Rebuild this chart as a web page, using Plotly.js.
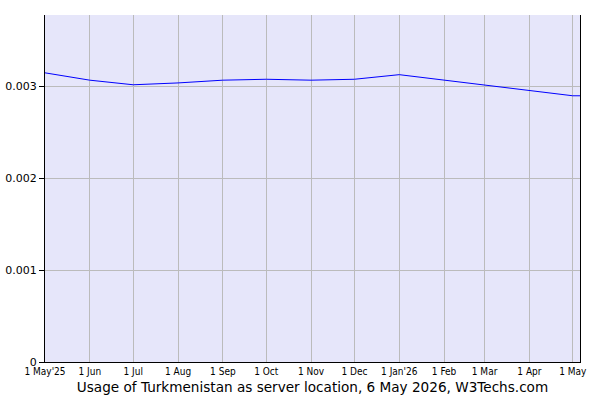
<!DOCTYPE html>
<html>
<head>
<meta charset="utf-8">
<script src="https://cdn.plot.ly/plotly-3.0.1.min.js"></script>
<style>
  html, body { margin: 0; padding: 0; background: #fff; }
  #chart { width: 600px; height: 400px; }
</style>
</head>
<body>
<div id="chart"></div>
<script>
// Monthly share of Turkmenistan as server location (fraction of websites)
const dates = [
    '2025-05-01', '2025-06-01', '2025-07-01', '2025-08-01', '2025-09-01',
    '2025-10-01', '2025-11-01', '2025-12-01', '2026-01-01', '2026-02-01',
    '2026-03-01', '2026-04-01', '2026-05-01', '2026-05-06'
];
const usage = [
    0.00315, 0.00307, 0.00302, 0.00304, 0.00307,
    0.00308, 0.00307, 0.00308, 0.00313, 0.00307,
    0.00301, 0.00295, 0.00290, 0.00290
];

const tickDates = [
    '2025-05-01', '2025-06-01', '2025-07-01', '2025-08-01', '2025-09-01',
    '2025-10-01', '2025-11-01', '2025-12-01', '2026-01-01', '2026-02-01',
    '2026-03-01', '2026-04-01', '2026-05-01'
];
const tickLabels = [
    "1 May'25", '1 Jun', '1 Jul', '1 Aug', '1 Sep',
    '1 Oct', '1 Nov', '1 Dec', "1 Jan'26", '1 Feb',
    '1 Mar', '1 Apr', '1 May'
];
const yTicks = [0, 0.001, 0.002, 0.003];
const yLabels = ['0', '0.001', '0.002', '0.003'];

const trace = {
    x: dates,
    y: usage,
    type: 'scatter',
    mode: 'lines',
    line: { color: '#0000ff', width: 1 },
    hoverinfo: 'skip'
};

const layout = {
    width: 600,
    height: 400,
    paper_bgcolor: '#ffffff',
    plot_bgcolor: '#e6e6fa',
    font: { family: 'DejaVu Sans, sans-serif', color: '#000', size: 11 },
    margin: { l: 45, r: 20, t: 15, b: 38 },
    showlegend: false,
    xaxis: {
        type: 'date',
        range: ['2025-05-01', '2026-05-06'],
        tickmode: 'array',
        tickvals: tickDates,
        ticktext: tickLabels,
        tickfont: { family: 'DejaVu Sans Condensed, DejaVu Sans, sans-serif', size: 10 },
        ticks: '',
        showgrid: true,
        gridcolor: '#bbbbbb',
        gridwidth: 1,
        showline: true,
        linecolor: '#000',
        linewidth: 1,
        zeroline: false,
        fixedrange: true,
        title: {
            text: 'Usage of Turkmenistan as server location, 6 May 2026, W3Techs.com',
            font: { family: 'DejaVu Sans, sans-serif', size: 13.6 },
            standoff: 6
        }
    },
    yaxis: {
        range: [0, 0.00378],
        tickmode: 'array',
        tickvals: yTicks,
        ticktext: yLabels,
        ticks: 'outside',
        ticklen: 5,
        tickcolor: '#000',
        showgrid: true,
        gridcolor: '#bbbbbb',
        gridwidth: 1,
        showline: true,
        mirror: true,
        linecolor: '#000',
        linewidth: 1,
        zeroline: false,
        fixedrange: true
    }
};

Plotly.newPlot('chart', [trace], layout, { displayModeBar: false, staticPlot: true });
</script>
</body>
</html>
